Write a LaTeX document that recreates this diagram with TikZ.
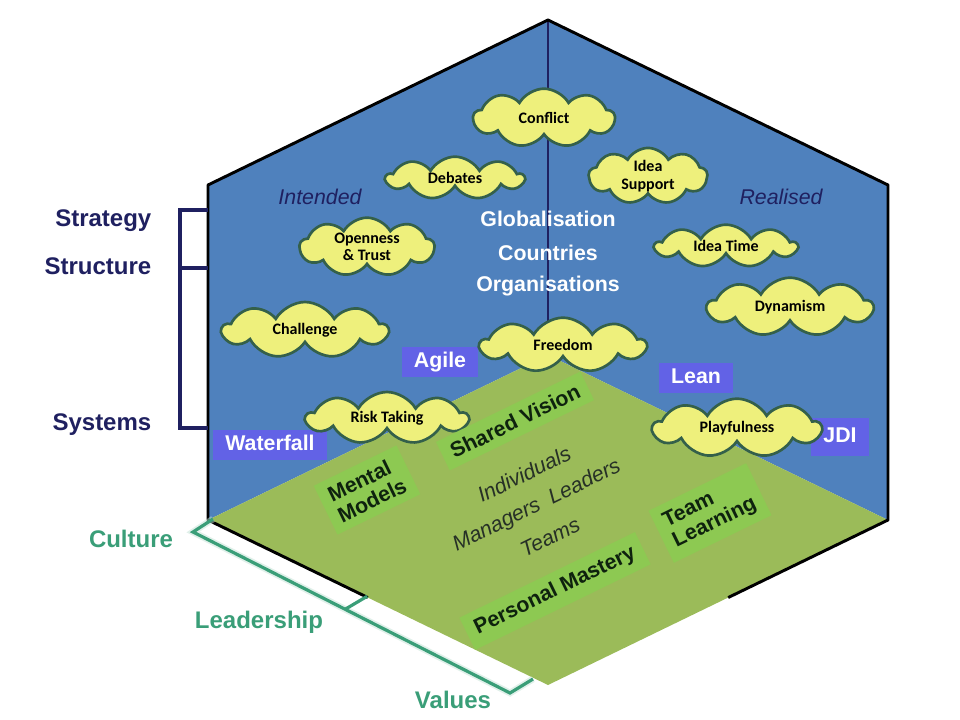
\documentclass[tikz,border=0pt]{standalone}
\usepackage{fontspec}
\setmainfont{Liberation Sans}
\newfontfamily\cloudfont{Carlito}
\usetikzlibrary{calc,shapes.symbols}
\definecolor{faceblue}{HTML}{4F81BD}
\definecolor{facegreen}{HTML}{9BBB59}
\definecolor{boxgreen}{HTML}{8DC952}
\definecolor{boxpurple}{HTML}{6262E6}
\definecolor{cloudfill}{HTML}{EEF07C}
\definecolor{cloudline}{HTML}{34604A}
\definecolor{navy}{HTML}{1F2060}
\definecolor{cultgreen}{HTML}{3A9E78}
\definecolor{darktext}{HTML}{263026}
\definecolor{boxtext}{HTML}{0E220E}

\begin{document}
\begin{tikzpicture}[x=0.75pt, y=-0.75pt,
    idea/.style={cloud, cloud puffs=9, cloud puff arc=120, cloud ignores aspect, draw=cloudline, line width=2pt, fill=cloudfill, font=\cloudfont\bfseries\fontsize{12}{13}\selectfont, align=center, inner sep=0pt},
    method/.style={fill=boxpurple, text=white, font=\bfseries\fontsize{16}{19}\selectfont, inner xsep=9pt, inner ysep=4pt, text height=11.5pt, text depth=3.5pt},
    discipline/.style={fill=boxgreen, text=boxtext, rotate=26, font=\bfseries\fontsize{16}{17}\selectfont, align=left, inner xsep=7pt, inner ysep=6pt},
    people/.style={rotate=26, text=darktext, font=\itshape\fontsize{16}{19}\selectfont},
    level/.style={text=navy, font=\bfseries\fontsize{18}{21}\selectfont, anchor=east},
    layer/.style={text=cultgreen, font=\bfseries\fontsize{18}{21}\selectfont},
    context/.style={text=white, font=\bfseries\fontsize{16}{19}\selectfont},
    intent/.style={text=navy, font=\itshape\fontsize{16}{19}\selectfont},
    hexline/.style={line width=2.2pt, line join=round},
    bracketline/.style={line width=2.4pt, line join=miter}]
    \useasboundingbox (0,0) rectangle (960,720);
    % Hexagon corners
    \coordinate (T) at (548,20);
    \coordinate (UL) at (208,185);
    \coordinate (LL) at (208,520);
    \coordinate (B) at (548,685);
    \coordinate (LR) at (888,520);
    \coordinate (UR) at (888,185);
    \coordinate (C) at (548,355);
    % Faces
    \fill[faceblue] (T) -- (UL) -- (LL) -- (C) -- cycle;
    \fill[faceblue] (T) -- (UR) -- (LR) -- (C) -- cycle;
    \fill[facegreen] (C) -- (LL) -- (B) -- (LR) -- cycle;
    \draw[navy, line width=0.8pt] (T) -- (C);
    \draw[hexline] ($(LL)!0.47!(B)$) -- (LL) -- (UL) -- (T) -- (UR) -- (LR) -- ($(LR)!0.47!(B)$);

    % Bracket: strategy, structure, systems
    \coordinate (strat) at (208,210);
    \coordinate (struc) at (208,268);
    \coordinate (syst) at (208,428);
    \draw[bracketline, navy] (strat) -- ++(-28,0) |- (syst);
    \draw[bracketline, navy] (struc) -- ++(-28,0);
    \node[level] (strategy) at (156,221) {Strategy};
    \node[level] (structure) at (156,266) {Structure};
    \node[level] (systems) at (156,425) {Systems};

    % Bracket: culture, leadership, values
    \coordinate (cultA) at (213,519);
    \coordinate (cultB) at (193,532);
    \coordinate (valB) at (510,693);
    \coordinate (valA) at (533,679);
    \draw[bracketline, cultgreen!30, line width=5pt, opacity=0.5] (cultA) -- (cultB) -- (valB) -- (valA);
    \draw[bracketline, cultgreen] (cultA) -- (cultB) -- (valB) -- (valA);
    \draw[bracketline, cultgreen] ($(cultB)!0.48!(valB)$) -- ++(22,-13);
    \node[layer] (culture) at (131,539) {Culture};
    \node[layer] (leadership) at (259,622) {Leadership};
    \node[layer] (values) at (453,700) {Values};

    % Sides
    \node[intent] (intended) at (320,197) {Intended};
    \node[intent] (realised) at (781,197) {Realised};
    \node[context] (global) at (548,219) {Globalisation};
    \node[context] (countries) at (548,253) {Countries};
    \node[context] (orgs) at (548,286) {Organisations};

    % Clouds
    \node[idea, minimum width=106pt, minimum height=44pt] (conflict) at (544,118) {Conflict};
    \node[idea, minimum width=103pt, minimum height=32pt] (debates) at (455,178) {Debates};
    \node[idea, minimum width=89pt, minimum height=41pt] (support) at (648,176) {Idea\\Support};
    \node[idea, minimum width=101pt, minimum height=44pt] (openness) at (367,247) {Openness\\\& Trust};
    \node[idea, minimum width=124pt, minimum height=42pt] (challenge) at (305,330) {Challenge};
    \node[idea, minimum width=106pt, minimum height=32pt] (ideatime) at (726,246) {Idea Time};
    \node[idea, minimum width=124pt, minimum height=44pt] (dynamism) at (790,307) {Dynamism};

    % Methods
    \node[method] (agile) at (440,362) {Agile};
    \node[method] (waterfall) at (270,445) {Waterfall};
    \node[method] (lean) at (696,378) {Lean};
    \node[method, minimum height=29pt] (jdi) at (840,437) {JDI};

    \node[idea, minimum width=124pt, minimum height=41pt] (freedom) at (563,345) {Freedom};
    \node[idea, minimum width=121pt, minimum height=39pt] (risk) at (387,418) {Risk Taking};
    \node[idea, minimum width=126pt, minimum height=44pt] (playful) at (737,428) {Playfulness};

    % Disciplines
    \node[discipline] (vision) at (515,421) {Shared Vision};
    \node[discipline] (mental) at (367,490) {Mental\\Models};
    \node[discipline] (teamlearn) at (710,513) {Team\\Learning};
    \node[discipline] (mastery) at (555,591) {Personal Mastery};

    % People
    \node[people] (individuals) at (524,474) {Individuals};
    \node[people] (managers) at (537,506) {Managers~~Leaders};
    \node[people] (teams) at (550,537) {Teams};
\end{tikzpicture}
\end{document}
